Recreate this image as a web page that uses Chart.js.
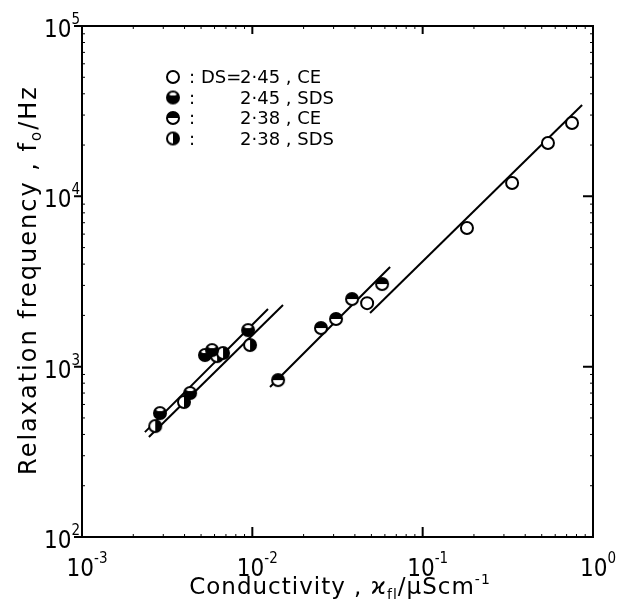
<!DOCTYPE html>
<html>
<head>
<meta charset="utf-8">
<script src="https://cdn.jsdelivr.net/npm/chart.js@4/dist/chart.umd.min.js"></script>
<style>
  html, body { margin: 0; padding: 0; background: #fff; }
</style>
</head>
<body>
<canvas id="chart" width="620" height="601"></canvas>
<script>
// values (x: conductivity in uS/cm, y: relaxation frequency in Hz)
const ce245X = [0.0472, 0.182, 0.335, 0.544, 0.753];
const ce245Y = [2360, 6520, 11970, 20560, 26940];
const sds245X = [0.00287, 0.00431, 0.00527, 0.0058, 0.00944];
const sds245Y = [534, 700, 1170, 1251, 1640];
const ce238X = [0.01416, 0.0253, 0.031, 0.0385, 0.0578];
const ce238Y = [834, 1686, 1905, 2495, 3055];
const sds238X = [0.00269, 0.00397, 0.00621, 0.00673, 0.00969];
const sds238Y = [448, 620, 1154, 1202, 1340];

// fitted straight lines (end points)
const fitAX = [0.00234, 0.01236], fitAY = [413, 2180];
const fitBX = [0.00247, 0.01514], fitBY = [386, 2300];
const fitCX = [0.0127, 0.0644], fitCY = [759, 3845];
const fitDX = [0.0491, 0.863], fitDY = [2065, 34360];

const xDecades = [-3, -2, -1, 0];
const yDecades = [2, 3, 4, 5];
const legendRows = [
  { kind: "open", pre: "DS=", text: "2·45 , CE" },
  { kind: "cap", pre: "", text: "2·45 , SDS" },
  { kind: "top", pre: "", text: "2·38 , CE" },
  { kind: "right", pre: "", text: "2·38 , SDS" }
];

const FONT = '"DejaVu Sans", sans-serif';
const TICKFONT = '"DejaVu Sans Condensed", "DejaVu Sans", sans-serif';

function pts(xs, ys) {
  return xs.map((x, i) => ({ x, y: ys[i] }));
}

function marker(kind) {
  const s = 18, r = 6, c = document.createElement("canvas");
  c.width = s; c.height = s;
  const g = c.getContext("2d");
  const cx = s / 2, cy = s / 2;
  g.save();
  g.beginPath(); g.arc(cx, cy, r, 0, Math.PI * 2); g.clip();
  g.fillStyle = "#fff"; g.fillRect(0, 0, s, s);
  g.fillStyle = "#000";
  if (kind === "top") g.fillRect(0, 0, s, cy);
  if (kind === "right") g.fillRect(cx, 0, s, s);
  if (kind === "cap") {
    g.fillRect(0, 0, s, s);
    g.fillStyle = "#fff";
    g.beginPath(); g.ellipse(cx, cy - r + 2, r * 0.7, 2, 0, 0, Math.PI * 2); g.fill();
  }
  g.restore();
  g.lineWidth = 2; g.strokeStyle = "#000";
  g.beginPath(); g.arc(cx, cy, r, 0, Math.PI * 2); g.stroke();
  return c;
}

const markers = {
  open: marker("open"), cap: marker("cap"), top: marker("top"), right: marker("right")
};

// pieces: [text, size, dy, font]
function drawPieces(ctx, pieces, x, y) {
  let px = x;
  pieces.forEach(([t, size, dy, f]) => {
    ctx.font = size + "px " + (f || FONT);
    ctx.fillText(t, px, y + dy);
    px += ctx.measureText(t).width;
  });
  return px - x;
}

function piecesWidth(ctx, pieces) {
  let w = 0;
  pieces.forEach(([t, size, dy, f]) => {
    ctx.font = size + "px " + (f || FONT);
    w += ctx.measureText(t).width;
  });
  return w;
}

function powPieces(e) {
  return [["10", 24, 0, TICKFONT], [String(e), 15, -13, TICKFONT]];
}

const decor = {
  id: "decor",
  afterDraw(chart) {
    const { ctx, chartArea: a, scales: { x, y } } = chart;
    ctx.save();
    ctx.fillStyle = "#000";
    ctx.strokeStyle = "#000";

    // frame
    ctx.lineWidth = 2;
    ctx.strokeRect(a.left, a.top, a.right - a.left, a.bottom - a.top);

    // major ticks
    xDecades.forEach(d => {
      const px = x.getPixelForValue(Math.pow(10, d));
      ctx.beginPath();
      ctx.moveTo(px, a.bottom); ctx.lineTo(px, a.bottom - 10);
      ctx.moveTo(px, a.top); ctx.lineTo(px, a.top + 8);
      ctx.stroke();
    });
    yDecades.forEach(d => {
      const py = y.getPixelForValue(Math.pow(10, d));
      ctx.beginPath();
      ctx.moveTo(a.left, py); ctx.lineTo(a.left - 8, py);
      ctx.moveTo(a.right, py); ctx.lineTo(a.right - 10, py);
      ctx.stroke();
    });

    // minor ticks
    ctx.lineWidth = 1;
    xDecades.slice(0, -1).forEach(d => {
      for (let m = 2; m < 10; m++) {
        const px = x.getPixelForValue(m * Math.pow(10, d));
        ctx.beginPath();
        ctx.moveTo(px, a.bottom); ctx.lineTo(px, a.bottom - 3);
        ctx.moveTo(px, a.top); ctx.lineTo(px, a.top + 3);
        ctx.stroke();
      }
    });
    yDecades.slice(0, -1).forEach(d => {
      for (let m = 2; m < 10; m++) {
        const py = y.getPixelForValue(m * Math.pow(10, d));
        ctx.beginPath();
        ctx.moveTo(a.left, py); ctx.lineTo(a.left + 3, py);
        ctx.moveTo(a.right, py); ctx.lineTo(a.right - 3, py);
        ctx.stroke();
      }
    });

    // tick labels
    ctx.textBaseline = "alphabetic";
    ctx.textAlign = "left";
    xDecades.forEach(d => {
      const px = x.getPixelForValue(Math.pow(10, d));
      const p = powPieces(d);
      const w = piecesWidth(ctx, p);
      drawPieces(ctx, p, px + 5 - w / 2, a.bottom + 39);
    });
    yDecades.forEach(d => {
      const py = y.getPixelForValue(Math.pow(10, d));
      const p = powPieces(d);
      const w = piecesWidth(ctx, p);
      drawPieces(ctx, p, a.left - 2 - w, py + 11);
    });

    // axis titles
    ctx.letterSpacing = "1px";
    const xt = [["Conductivity , ϰ", 23, 0], ["fl", 14, 5], ["/μScm", 23, 0], ["-1", 14, -10]];
    const xw = piecesWidth(ctx, xt);
    drawPieces(ctx, xt, 340 - xw / 2, 594);

    ctx.letterSpacing = "2px";
    const yt = [["Relaxation frequency , f", 24, 0], ["o", 15, 5], ["/Hz", 24, 0]];
    const yw = piecesWidth(ctx, yt);
    ctx.save();
    ctx.translate(36, 280);
    ctx.rotate(-Math.PI / 2);
    drawPieces(ctx, yt, -yw / 2, 0);
    ctx.restore();
    ctx.letterSpacing = "0px";

    // legend
    legendRows.forEach((row, i) => {
      const ly = 77 + i * 20.5;
      ctx.drawImage(markers[row.kind], 173 - 9, ly - 9);
      ctx.font = "18px " + FONT;
      ctx.fillText(":", 189, ly + 6);
      if (row.pre) ctx.fillText(row.pre, 201, ly + 6);
      ctx.fillText(row.text, 240, ly + 6);
    });

    ctx.restore();
  }
};

const pointSet = (label, xs, ys, kind) => ({
  label,
  data: pts(xs, ys),
  showLine: false,
  pointStyle: kind === "open" ? "circle" : markers[kind],
  pointRadius: 6,
  pointBorderWidth: 2,
  pointBackgroundColor: "#fff",
  pointBorderColor: "#000"
});

const lineSet = (xs, ys) => ({
  label: "fit",
  data: pts(xs, ys),
  showLine: true,
  pointRadius: 0,
  borderColor: "#000",
  borderWidth: 2
});

new Chart(document.getElementById("chart"), {
  type: "scatter",
  data: {
    datasets: [
      pointSet("DS=2·45, CE", ce245X, ce245Y, "open"),
      pointSet("2·45, SDS", sds245X, sds245Y, "cap"),
      pointSet("2·38, CE", ce238X, ce238Y, "top"),
      pointSet("2·38, SDS", sds238X, sds238Y, "right"),
      lineSet(fitAX, fitAY),
      lineSet(fitBX, fitBY),
      lineSet(fitCX, fitCY),
      lineSet(fitDX, fitDY)
    ]
  },
  options: {
    responsive: false,
    animation: false,
    layout: { padding: { top: 26, right: 27, left: 0, bottom: 0 } },
    plugins: { legend: { display: false }, tooltip: { enabled: false } },
    scales: {
      x: {
        type: "logarithmic",
        min: 0.001,
        max: 1,
        ticks: { display: false },
        grid: { display: false },
        border: { display: false },
        afterFit: s => { s.height = 64; }
      },
      y: {
        type: "logarithmic",
        min: 100,
        max: 100000,
        ticks: { display: false },
        grid: { display: false },
        border: { display: false },
        afterFit: s => { s.width = 82; }
      }
    }
  },
  plugins: [decor]
});
</script>
</body>
</html>
